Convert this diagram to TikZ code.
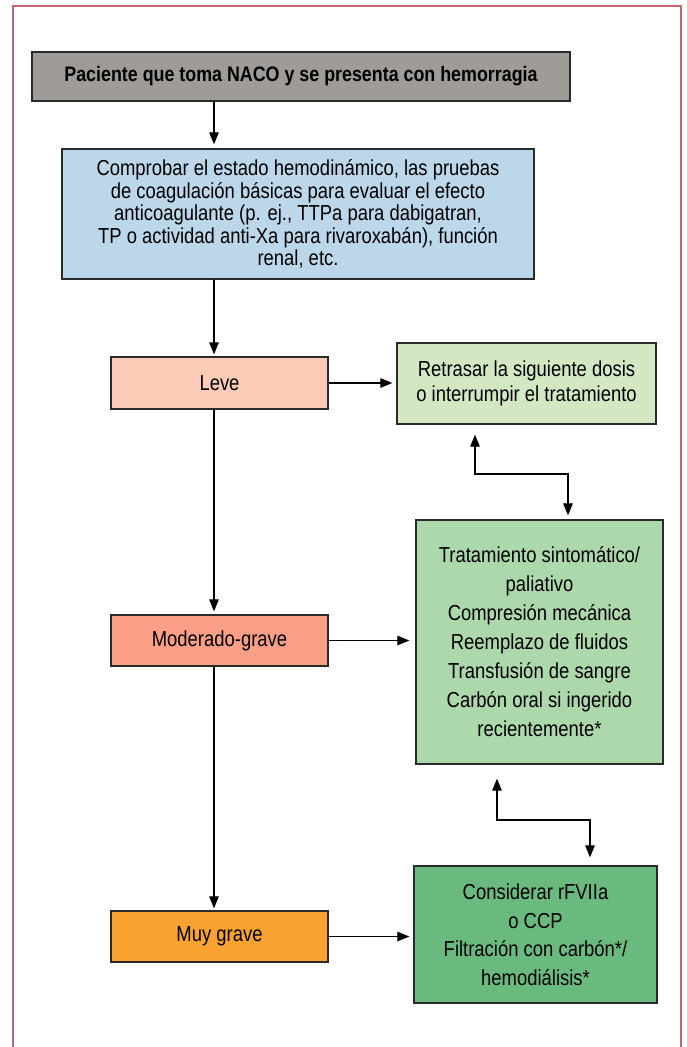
\documentclass[tikz,border=0pt]{standalone}
\usepackage{fontspec}
\setmainfont{Liberation Sans}[FakeStretch=0.85]
\usetikzlibrary{arrows.meta}
\definecolor{framecol}{HTML}{C8646E}
\definecolor{cgrey}{HTML}{9F9B97}
\definecolor{cblue}{HTML}{BDD7EA}
\definecolor{cleve}{HTML}{FCCBB7}
\definecolor{cretr}{HTML}{D4E7C3}
\definecolor{cbig}{HTML}{ACD8AC}
\definecolor{cmod}{HTML}{FB9F86}
\definecolor{cmuy}{HTML}{FBA331}
\definecolor{cdark}{HTML}{6ABA7F}
\definecolor{cline}{HTML}{2A2A2A}
\tikzset{
  box/.style={draw=cline, line width=1.3pt, inner sep=0pt, align=center, text=black,
    font=\fontsize{21.7}{29}\selectfont},
  arr/.style={line width=1.1pt, -{Triangle[length=12pt,width=9.5pt]}},
  darr/.style={line width=1.1pt, {Triangle[length=12pt,width=9.5pt]}-{Triangle[length=12pt,width=9.5pt]}},
}
\begin{document}
\begin{tikzpicture}[x=1pt,y=-1pt]
\useasboundingbox (0,0) rectangle (686,1047);
\draw[framecol, line width=1.3pt] (13,1047) -- (13,6) -- (681,6) -- (681,1047);

\node[box, fill=cgrey, minimum width=538pt, minimum height=49pt,
  font=\bfseries\fontsize{21}{24}\selectfont] (top) at (301,76.5)
  {Paciente que toma NACO y se presenta con hemorragia};
\node[box, fill=cblue, minimum width=472pt, minimum height=130pt,
  font=\fontsize{21.7}{22.5}\selectfont] (blue) at (298,214)
  {Comprobar el estado hemodinámico, las pruebas\\de coagulación básicas para evaluar el efecto\\anticoagulante (p. ej., TTPa para dabigatran,\\TP o actividad anti-Xa para rivaroxabán), función\\renal, etc.};
\node[box, fill=cleve, minimum width=217pt, minimum height=52pt] (leve) at (219.5,383) {Leve};
\node[box, fill=cretr, minimum width=259pt, minimum height=81pt,
  font=\fontsize{21.7}{25}\selectfont] (retr) at (526.5,383.5)
  {Retrasar la siguiente dosis\\o interrumpir el tratamiento};
\node[box, fill=cbig, minimum width=247pt, minimum height=244pt] (big) at (539.5,642)
  {Tratamiento sintomático/\\paliativo\\Compresión mecánica\\Reemplazo de fluidos\\Transfusión de sangre\\Carbón oral si ingerido\\recientemente*};
\node[box, fill=cmod, minimum width=217pt, minimum height=51pt] (mod) at (219.5,640.5) {Moderado-grave};
\node[box, fill=cmuy, minimum width=217pt, minimum height=51pt] (muy) at (219.5,936.5) {Muy grave};
\node[box, fill=cdark, minimum width=243pt, minimum height=137pt,
  font=\fontsize{21.7}{28.5}\selectfont] (dark) at (535.5,934.5)
  {Considerar rFVIIa\\o CCP\\Filtración con carbón*/\\hemodiálisis*};

\coordinate (vx) at (214,0);
\coordinate (a1) at (475,0);
\coordinate (a2) at (568,0);
\coordinate (am) at (0,474);
\coordinate (b1) at (497,0);
\coordinate (b2) at (590,0);
\coordinate (bm) at (0,820);

\draw[arr, shorten >=4pt] (top.south -| vx) -- (blue.north -| vx);
\draw[arr, shorten >=2pt] (blue.south -| vx) -- (leve.north -| vx);
\draw[arr, shorten >=3pt] (leve.south -| vx) -- (mod.north -| vx);
\draw[arr, shorten >=2pt] (mod.south -| vx) -- (muy.north -| vx);

\draw[arr, shorten >=4pt] (leve.east) -- (leve.east -| retr.west);
\draw[arr, shorten >=6pt] (mod.east) -- (mod.east -| big.west);
\draw[arr, shorten >=4pt] (muy.east) -- (muy.east -| dark.west);

\draw[darr, shorten <=10pt, shorten >=4pt] (retr.south -| a1) -- (am -| a1) -- (am -| a2) -- (big.north -| a2);
\draw[darr, shorten <=14pt, shorten >=8pt] (big.south -| b1) -- (bm -| b1) -- (bm -| b2) -- (dark.north -| b2);
\end{tikzpicture}
\end{document}
